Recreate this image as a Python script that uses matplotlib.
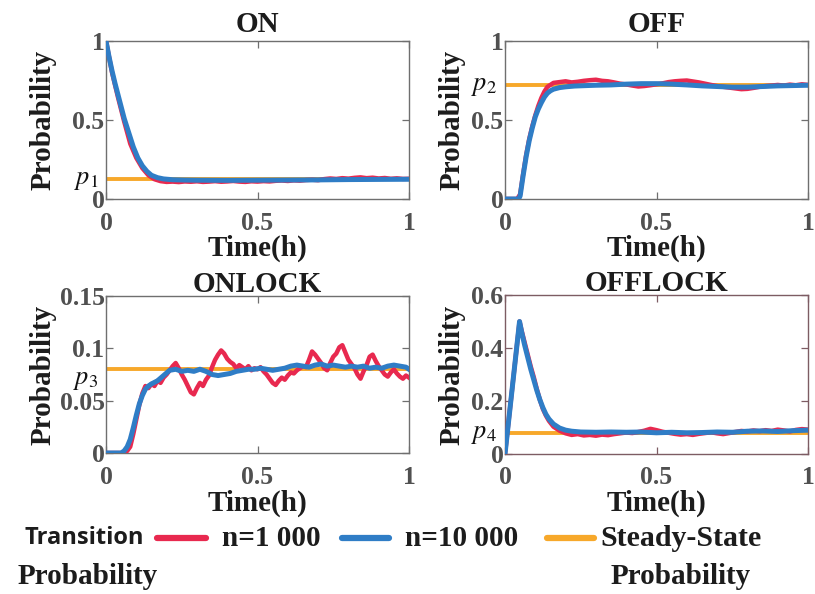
import numpy as np
import matplotlib
matplotlib.use("Agg")
import matplotlib.pyplot as plt
from matplotlib.lines import Line2D

plt.rcParams["mathtext.fontset"] = "stix"

# ---------------- data ----------------
titles = ["ON", "OFF", "ONLOCK", "OFFLOCK"]
steady = [0.125, 0.72, 0.08, 0.08]
p_labels = [r"$p_1$", r"$p_2$", r"$p_3$", r"$p_4$"]

# ON state
on_t10k = [0, 0.01, 0.02, 0.03, 0.045, 0.06, 0.075, 0.09, 0.105, 0.12, 0.135, 0.15,
           0.17, 0.19, 0.22, 0.26, 0.3, 0.4, 0.5, 0.6, 0.7, 0.8, 0.9, 1.0]
on_p10k = [1.0, 0.90, 0.81, 0.73, 0.62, 0.51, 0.42, 0.33, 0.26, 0.21, 0.175, 0.15,
           0.135, 0.127, 0.122, 0.12, 0.119, 0.118, 0.119, 0.12, 0.121, 0.123, 0.124, 0.125]
on_t1k = [0, 0.02, 0.04, 0.06, 0.08, 0.1, 0.12, 0.14, 0.16, 0.18, 0.2, 0.22, 0.24,
          0.26, 0.28, 0.3, 0.32, 0.34, 0.36, 0.38, 0.4, 0.42, 0.44, 0.46, 0.48, 0.5,
          0.52, 0.54, 0.56, 0.58, 0.6, 0.62, 0.64, 0.66, 0.68, 0.7, 0.72, 0.74, 0.76,
          0.78, 0.8, 0.82, 0.84, 0.86, 0.88, 0.9, 0.92, 0.94, 0.96, 0.98, 1.0]
on_p1k = [1.0, 0.80, 0.64, 0.49, 0.35, 0.26, 0.195, 0.15, 0.125, 0.113, 0.108, 0.11,
          0.107, 0.111, 0.109, 0.112, 0.108, 0.11, 0.113, 0.109, 0.111, 0.114, 0.11,
          0.108, 0.112, 0.11, 0.113, 0.111, 0.115, 0.117, 0.114, 0.118, 0.116, 0.12,
          0.122, 0.119, 0.126, 0.13, 0.127, 0.132, 0.129, 0.134, 0.137, 0.132, 0.135,
          0.13, 0.133, 0.128, 0.131, 0.127, 0.128]

# OFF state
off_t10k = [0, 0.045, 0.05, 0.06, 0.07, 0.08, 0.09, 0.1, 0.11, 0.12, 0.13, 0.14, 0.15,
            0.16, 0.18, 0.2, 0.23, 0.27, 0.3, 0.35, 0.4, 0.45, 0.5, 0.55, 0.6, 0.65,
            0.7, 0.75, 0.8, 0.85, 0.9, 0.95, 1.0]
off_p10k = [0, 0, 0.02, 0.15, 0.27, 0.37, 0.45, 0.52, 0.57, 0.61, 0.645, 0.67, 0.685,
            0.695, 0.705, 0.71, 0.715, 0.718, 0.72, 0.722, 0.727, 0.73, 0.73, 0.727,
            0.722, 0.716, 0.712, 0.708, 0.708, 0.712, 0.716, 0.718, 0.72]
off_t1k = [0, 0.04, 0.05, 0.06, 0.07, 0.08, 0.09, 0.1, 0.11, 0.12, 0.13, 0.14, 0.16,
           0.18, 0.2, 0.22, 0.24, 0.26, 0.28, 0.3, 0.32, 0.34, 0.36, 0.38, 0.4, 0.42,
           0.44, 0.46, 0.48, 0.5, 0.52, 0.54, 0.56, 0.58, 0.6, 0.62, 0.64, 0.66, 0.68,
           0.7, 0.72, 0.74, 0.76, 0.78, 0.8, 0.82, 0.84, 0.86, 0.88, 0.9, 0.92, 0.94,
           0.96, 0.98, 1.0]
off_p1k = [0, 0, 0.03, 0.16, 0.28, 0.38, 0.46, 0.53, 0.59, 0.64, 0.68, 0.71, 0.735,
           0.74, 0.745, 0.738, 0.742, 0.748, 0.752, 0.755, 0.748, 0.745, 0.738, 0.73,
           0.725, 0.718, 0.712, 0.715, 0.72, 0.726, 0.732, 0.74, 0.745, 0.748, 0.75,
           0.744, 0.738, 0.73, 0.722, 0.715, 0.71, 0.705, 0.7, 0.695, 0.697, 0.703,
           0.71, 0.715, 0.718, 0.722, 0.718, 0.724, 0.72, 0.726, 0.722]

# ONLOCK state
onl_t10k = [0, 0.05, 0.06, 0.07, 0.08, 0.09, 0.1, 0.11, 0.12, 0.13, 0.14, 0.15, 0.17,
            0.19, 0.21, 0.23, 0.25, 0.27, 0.29, 0.31, 0.33, 0.35, 0.37, 0.39, 0.41,
            0.43, 0.45, 0.47, 0.49, 0.51, 0.53, 0.55, 0.57, 0.59, 0.61, 0.63, 0.65,
            0.67, 0.69, 0.71, 0.73, 0.75, 0.77, 0.79, 0.81, 0.83, 0.85, 0.87, 0.89,
            0.91, 0.93, 0.95, 0.97, 0.99, 1.0]
onl_p10k = [0, 0, 0.002, 0.006, 0.013, 0.024, 0.036, 0.047, 0.055, 0.061, 0.064,
            0.066, 0.069, 0.074, 0.079, 0.08, 0.078, 0.079, 0.078, 0.08, 0.078, 0.075,
            0.074, 0.075, 0.076, 0.078, 0.079, 0.08, 0.08, 0.081, 0.08, 0.079, 0.08,
            0.081, 0.083, 0.084, 0.083, 0.082, 0.084, 0.085, 0.083, 0.084, 0.083,
            0.082, 0.083, 0.082, 0.083, 0.081, 0.082, 0.081, 0.083, 0.084, 0.083,
            0.082, 0.08]
onl_t1k = [round(0.01 * i, 2) for i in range(101)]
onl_p1k = [0, 0, 0, 0, 0, 0, 0.0, 0.002, 0.006, 0.018, 0.032, 0.046, 0.057, 0.064,
           0.062, 0.066, 0.064, 0.069, 0.067, 0.072, 0.075, 0.079, 0.083, 0.086, 0.081,
           0.075, 0.070, 0.064, 0.058, 0.056, 0.062, 0.067, 0.064, 0.070, 0.074, 0.082,
           0.089, 0.094, 0.098, 0.095, 0.090, 0.087, 0.085, 0.081, 0.084, 0.082, 0.080,
           0.083, 0.079, 0.081, 0.080, 0.082, 0.078, 0.075, 0.071, 0.067, 0.065, 0.069,
           0.072, 0.070, 0.074, 0.077, 0.076, 0.079, 0.081, 0.083, 0.082, 0.089, 0.097,
           0.094, 0.090, 0.086, 0.081, 0.079, 0.086, 0.092, 0.095, 0.101, 0.103, 0.096,
           0.089, 0.085, 0.081, 0.075, 0.071, 0.078, 0.084, 0.092, 0.094, 0.088, 0.083,
           0.079, 0.075, 0.073, 0.077, 0.080, 0.076, 0.073, 0.071, 0.074, 0.072]

# OFFLOCK state
offl_t10k = [0, 0.048, 0.055, 0.065, 0.075, 0.085, 0.095, 0.105, 0.115, 0.125, 0.135,
             0.145, 0.16, 0.18, 0.2, 0.22, 0.25, 0.3, 0.35, 0.4, 0.45, 0.5, 0.55, 0.6,
             0.65, 0.7, 0.75, 0.8, 0.85, 0.9, 0.95, 1.0]
offl_p10k = [0, 0.5, 0.46, 0.41, 0.365, 0.32, 0.28, 0.24, 0.205, 0.175, 0.15, 0.132,
             0.113, 0.098, 0.09, 0.086, 0.083, 0.082, 0.083, 0.082, 0.083, 0.08, 0.082,
             0.08, 0.081, 0.083, 0.082, 0.086, 0.087, 0.085, 0.088, 0.09]
offl_t1k = [0, 0.048, 0.055, 0.065, 0.075, 0.085, 0.095, 0.105, 0.115, 0.125, 0.135,
            0.145, 0.16, 0.18, 0.2, 0.22, 0.24, 0.26, 0.28, 0.3, 0.32, 0.34, 0.36, 0.38,
            0.4, 0.42, 0.44, 0.46, 0.48, 0.5, 0.52, 0.54, 0.56, 0.58, 0.6, 0.62, 0.64,
            0.66, 0.68, 0.7, 0.72, 0.74, 0.76, 0.78, 0.8, 0.82, 0.84, 0.86, 0.88, 0.9,
            0.92, 0.94, 0.96, 0.98, 1.0]
offl_p1k = [0, 0.5, 0.465, 0.42, 0.375, 0.33, 0.29, 0.245, 0.205, 0.17, 0.145, 0.125,
            0.103, 0.088, 0.078, 0.072, 0.075, 0.07, 0.072, 0.069, 0.073, 0.071, 0.075,
            0.078, 0.081, 0.079, 0.083, 0.088, 0.095, 0.09, 0.084, 0.08, 0.076, 0.073,
            0.075, 0.072, 0.076, 0.079, 0.082, 0.078, 0.075, 0.079, 0.083, 0.087, 0.085,
            0.089, 0.086, 0.09, 0.087, 0.092, 0.089, 0.085, 0.091, 0.094, 0.092]

series_1k = [(on_t1k, on_p1k), (off_t1k, off_p1k), (onl_t1k, onl_p1k), (offl_t1k, offl_p1k)]
series_10k = [(on_t10k, on_p10k), (off_t10k, off_p10k), (onl_t10k, onl_p10k), (offl_t10k, offl_p10k)]

x_ticks = [0, 0.5, 1]
x_ticklabels = ["0", "0.5", "1"]
y_limits = [(0, 1), (0, 1), (0, 0.15), (0, 0.6)]
y_ticks = [[0, 0.5, 1], [0, 0.5, 1], [0, 0.05, 0.1, 0.15], [0, 0.2, 0.4, 0.6]]
y_ticklabels = [["0", "0.5", "1"], ["0", "0.5", "1"],
                ["0", "0.05", "0.1", "0.15"], ["0", "0.2", "0.4", "0.6"]]

legend_labels = ["n=1 000", "n=10 000"]

# ---------------- style ----------------
RED = "#e8294f"
BLUE = "#2f7dc6"
ORANGE = "#f7a82a"
SERIF = "Liberation Serif"
TICK_GRAY = "#505050"
DARK = "#1c1c1c"
spine_colors = ["#6f6f6f", "#6f6f6f", "#6f6f6f", "#7d5c63"]

fig = plt.figure(figsize=(8.15, 5.94), dpi=100)
W, H = 815.0, 594.0
# axes boxes in pixels: left, top, width, height
boxes = [(106, 41, 303, 158), (505, 41, 303, 158),
         (106, 296, 303, 157), (505, 295, 303, 159)]
ylabel_x_px = [43, 452, 43, 452]
xlabel_top_px = [235, 235, 490, 490]
title_pad = [6.5, 6.5, 3, 3]
p_label_dy = [0, 0, -7, 0]   # vertical nudge of the p_i labels, in points

for i, (x0, y0, w, h) in enumerate(boxes):
    ax = fig.add_axes([x0 / W, 1 - (y0 + h) / H, w / W, h / H])
    ax.plot([0, 1], [steady[i], steady[i]], color=ORANGE, lw=2.8, zorder=2,
            solid_capstyle="butt")
    t1, p1 = series_1k[i]
    ax.plot(t1, p1, color=RED, lw=3.2, zorder=3)
    t2, p2 = series_10k[i]
    ax.plot(t2, p2, color=BLUE, lw=3.6, zorder=4)

    ax.set_xlim(0, 1)
    ax.set_ylim(*y_limits[i])
    ax.set_xticks(x_ticks)
    ax.set_xticklabels(x_ticklabels)
    ax.set_yticks(y_ticks[i])
    ax.set_yticklabels(y_ticklabels[i])
    ax.tick_params(direction="in", top=True, right=True, length=5, width=0.9,
                   color=spine_colors[i], labelcolor=TICK_GRAY, labelsize=18.5)
    ax.tick_params(axis="x", pad=9)
    ax.tick_params(axis="y", pad=1)
    for lab in ax.get_xticklabels() + ax.get_yticklabels():
        lab.set_fontfamily(SERIF)
        lab.set_fontweight("bold")
    for sp in ax.spines.values():
        sp.set_color(spine_colors[i])
        sp.set_linewidth(1.0)

    ax.set_title(titles[i], fontfamily=SERIF, fontweight="bold", fontsize=21,
                 color=DARK, pad=title_pad[i])
    ax.set_xlabel("Time(h)", fontfamily=SERIF, fontweight="bold", fontsize=21,
                  color=DARK, va="top")
    ax.xaxis.set_label_coords(0.5, (y0 + h - xlabel_top_px[i]) / h)
    ax.set_ylabel("Probability", fontfamily=SERIF, fontweight="bold", fontsize=21,
                  color=DARK, va="center")
    ax.yaxis.set_label_coords((ylabel_x_px[i] - x0) / w, 0.5)
    ax.annotate(p_labels[i], xy=(-0.025, steady[i]), xycoords=ax.get_yaxis_transform(),
                xytext=(0, p_label_dy[i]), textcoords="offset points",
                ha="right", va="center", fontsize=19, color="#111111",
                annotation_clip=False)

# ---------------- legend row ----------------
ly = 1 - 538 / H
ly2 = 1 - 577 / H
fig.text(84 / W, ly, "Transition", fontfamily="Open Sans", fontweight="bold",
         fontsize=17, color=DARK, ha="center", va="center")
fig.text(88 / W, ly2, "Probability", fontfamily=SERIF, fontweight="bold",
         fontsize=21, color=DARK, ha="center", va="center")
fig.add_artist(Line2D([157 / W, 206 / W], [ly, ly], color=RED, lw=4.5,
                      solid_capstyle="round", transform=fig.transFigure))
fig.text(271 / W, ly, legend_labels[0], fontfamily=SERIF, fontweight="bold",
         fontsize=21, color=DARK, ha="center", va="center")
fig.add_artist(Line2D([342 / W, 389 / W], [ly, ly], color=BLUE, lw=4.5,
                      solid_capstyle="round", transform=fig.transFigure))
fig.text(462 / W, ly, legend_labels[1], fontfamily=SERIF, fontweight="bold",
         fontsize=21, color=DARK, ha="center", va="center")
fig.add_artist(Line2D([547 / W, 594 / W], [ly, ly], color=ORANGE, lw=4.5,
                      solid_capstyle="round", transform=fig.transFigure))
fig.text(681 / W, ly, "Steady-State", fontfamily=SERIF, fontweight="bold",
         fontsize=21.5, color=DARK, ha="center", va="center")
fig.text(681 / W, ly2, "Probability", fontfamily=SERIF, fontweight="bold",
         fontsize=21, color=DARK, ha="center", va="center")

fig.savefig("out.png", dpi=100)
